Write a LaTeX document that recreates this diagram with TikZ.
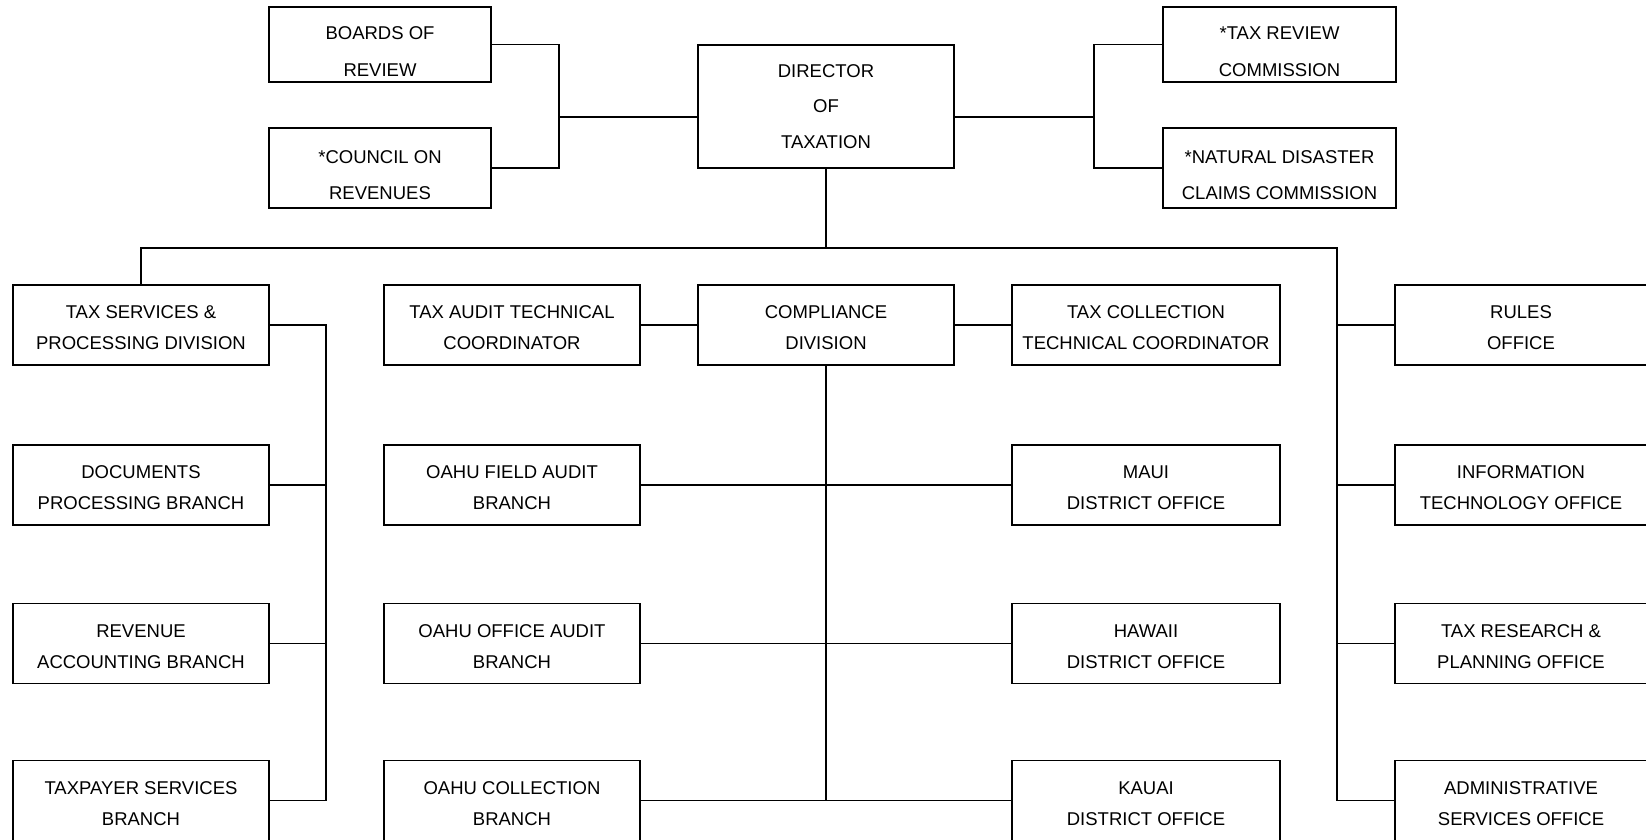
\documentclass[tikz,border=0pt]{standalone}
\usepackage{fontspec}
\setmainfont{Liberation Sans}
\newcommand\tstr{\rule{0pt}{27pt}}
\newcommand\rstr{\rule{0pt}{19pt}}
\begin{document}
\begin{tikzpicture}[x=1pt,y=-1pt,
  bx/.style={draw, line width=1.3pt, align=center, inner sep=0pt},
  box/.style={bx, font=\fontsize{18.5}{31}\selectfont, minimum height=80pt},
  topbox/.style={bx, font=\fontsize{18.5}{36.5}\selectfont, minimum height=75pt},
  dirbox/.style={bx, font=\fontsize{18.5}{35.5}\selectfont, minimum width=256pt, minimum height=123pt},
  conn/.style={line width=1.3pt}]
\useasboundingbox (0,0) rectangle (1646,840);

% top section
\node[topbox, minimum width=222pt] (boards) at (380,44.5) {\tstr BOARDS OF\\REVIEW};
\node[topbox, minimum width=222pt, minimum height=80pt] (council) at (380,168) {\tstr *COUNCIL ON\\REVENUES};
\node[dirbox] (dir) at (826,106.5) {DIRECTOR\\OF\\TAXATION};
\node[topbox, minimum width=233pt] (trc) at (1279.5,44.5) {\tstr *TAX REVIEW\\COMMISSION};
\node[topbox, minimum width=233pt, minimum height=80pt] (ndc) at (1279.5,168) {\tstr *NATURAL DISASTER\\CLAIMS COMMISSION};

% column A
\node[box, minimum width=256pt] (tsp) at (141,325) {\rstr TAX SERVICES \&\\PROCESSING DIVISION};
\node[box, minimum width=256pt] (docs) at (141,485) {\rstr DOCUMENTS\\PROCESSING BRANCH};
\node[box, minimum width=256pt] (rev) at (141,643.5) {\rstr REVENUE\\ACCOUNTING BRANCH};
\node[box, minimum width=256pt] (tpay) at (141,800.5) {\rstr TAXPAYER SERVICES\\BRANCH};

% column B
\node[box, minimum width=256pt] (audit) at (512,325) {\rstr TAX AUDIT TECHNICAL\\COORDINATOR};
\node[box, minimum width=256pt] (field) at (512,485) {\rstr OAHU FIELD AUDIT\\BRANCH};
\node[box, minimum width=256pt] (office) at (512,643.5) {\rstr OAHU OFFICE AUDIT\\BRANCH};
\node[box, minimum width=256pt] (ocoll) at (512,800.5) {\rstr OAHU COLLECTION\\BRANCH};

% column C
\node[box, minimum width=256pt] (comp) at (826,325) {\rstr COMPLIANCE\\DIVISION};

% column D
\node[box, minimum width=268pt] (coll) at (1146,325) {\rstr TAX COLLECTION\\TECHNICAL COORDINATOR};
\node[box, minimum width=268pt] (maui) at (1146,485) {\rstr MAUI\\DISTRICT OFFICE};
\node[box, minimum width=268pt] (hawaii) at (1146,643.5) {\rstr HAWAII\\DISTRICT OFFICE};
\node[box, minimum width=268pt] (kauai) at (1146,800.5) {\rstr KAUAI\\DISTRICT OFFICE};

% column E
\node[box, minimum width=252pt] (rules) at (1521,325) {\rstr RULES\\OFFICE};
\node[box, minimum width=252pt] (info) at (1521,485) {\rstr INFORMATION\\TECHNOLOGY OFFICE};
\node[box, minimum width=252pt] (research) at (1521,643.5) {\rstr TAX RESEARCH \&\\PLANNING OFFICE};
\node[box, minimum width=252pt] (admin) at (1521,800.5) {\rstr ADMINISTRATIVE\\SERVICES OFFICE};

% junction coordinates
\coordinate (lj) at (559,117);
\coordinate (rj) at (1094,117);
\coordinate (busL) at (141,248);
\coordinate (busR) at (1337,248);
\coordinate (lv) at (326,325);

% top connectors
\draw[conn] (boards.east) -| (lj) |- (council.east);
\draw[conn] (lj) -- (lj -| dir.west);
\draw[conn] (trc.west) -| (rj) |- (ndc.west);
\draw[conn] (rj) -- (rj -| dir.east);

% bus
\draw[conn] (dir.south) -- (dir.south |- busL);
\draw[conn] (tsp.north) -- (busL) -- (busR) -- (busR |- admin.west) -- (admin.west);
\draw[conn] (busR |- rules.west) -- (rules.west);
\draw[conn] (busR |- info.west) -- (info.west);
\draw[conn] (busR |- research.west) -- (research.west);

% tax services division
\draw[conn] (tsp.east) -- (lv) |- (tpay.east);
\draw[conn] (docs.east) -- (docs.east -| lv);
\draw[conn] (rev.east) -- (rev.east -| lv);

% compliance division
\draw[conn] (audit.east) -- (comp.west);
\draw[conn] (comp.east) -- (coll.west);
\draw[conn] (comp.south) -- (comp.south |- kauai.west);
\draw[conn] (field.east) -- (maui.west);
\draw[conn] (office.east) -- (hawaii.west);
\draw[conn] (ocoll.east) -- (kauai.west);
\end{tikzpicture}
\end{document}
